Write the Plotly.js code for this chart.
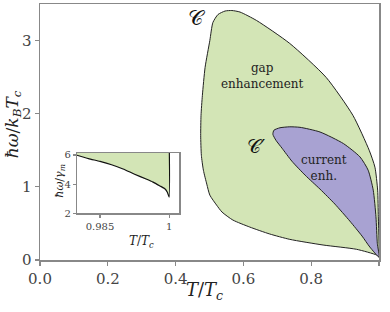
<!DOCTYPE html>
<html>
<head>
<meta charset="utf-8">
<script src="https://cdn.plot.ly/plotly-3.0.1.min.js"></script>
<style>html,body{margin:0;padding:0;background:#fff;}#chart{width:390px;height:312px;}</style>
</head>
<body>
<div id="chart"></div>
<script>
// Region C (gap enhancement) boundary
const regionC_T = [1.0, 0.993, 0.934, 0.835, 0.737, 0.678, 0.619, 0.569, 0.537, 0.521, 0.501, 0.492, 0.482, 0.476, 0.474, 0.475, 0.479, 0.487, 0.501, 0.510, 0.525, 0.546, 0.566, 0.590, 0.639, 0.737, 0.844, 0.923, 0.971, 0.988, 0.996, 0.998, 1.0, 1.0];
const regionC_W = [0.041, 0.068, 0.146, 0.205, 0.282, 0.355, 0.450, 0.546, 0.655, 0.750, 0.887, 1.037, 1.228, 1.432, 1.705, 1.978, 2.251, 2.633, 3.001, 3.247, 3.356, 3.404, 3.411, 3.390, 3.274, 2.960, 2.497, 1.978, 1.501, 1.269, 0.955, 0.591, 0.273, 0.041];
// Region C' (current enhancement) boundary
const regionCp_T = [1.0, 0.973, 0.950, 0.914, 0.870, 0.826, 0.782, 0.743, 0.714, 0.696, 0.687, 0.690, 0.708, 0.737, 0.767, 0.826, 0.895, 0.944, 0.968, 0.983, 0.991, 0.995, 1.0];
const regionCp_W = [0.041, 0.177, 0.327, 0.532, 0.764, 0.969, 1.160, 1.351, 1.528, 1.637, 1.719, 1.774, 1.808, 1.821, 1.814, 1.750, 1.592, 1.409, 1.228, 0.955, 0.591, 0.228, 0.041];
// Inset curve
const inset_T = [0.98, 0.9825, 0.985, 0.9875, 0.99, 0.9925, 0.995, 0.9965, 0.998, 0.999, 0.9996, 1.0];
const inset_W = [5.98, 5.75, 5.56, 5.33, 5.04, 4.68, 4.35, 4.14, 3.88, 3.70, 3.45, 3.12];
const insetTop = 7;

const xTicks = [0, 0.2, 0.4, 0.6, 0.8, 1.0];
const yTicks = [0, 1, 2, 3];
const insetXTicks = [0.985, 1];
const insetYTicks = [2, 4, 6];

const GREEN = '#d3e5b6', PURPLE = '#a8a2d2', SPINE = '#888888';
const FONT = 'DejaVu Serif, Liberation Serif, serif';

const traces = [
  {x: regionC_T, y: regionC_W, mode: 'lines', fill: 'toself', fillcolor: GREEN,
   line: {color: '#222', width: 1, shape: 'spline', smoothing: 0.6}, hoverinfo: 'skip'},
  {x: regionCp_T, y: regionCp_W, mode: 'lines', fill: 'toself', fillcolor: PURPLE,
   line: {color: '#222', width: 1, shape: 'spline', smoothing: 0.6}, hoverinfo: 'skip'},
  {x: inset_T.concat([1.0, 0.98]), y: inset_W.concat([insetTop, insetTop]), xaxis: 'x2', yaxis: 'y2',
   mode: 'lines', fill: 'toself', fillcolor: GREEN, line: {width: 0}, hoverinfo: 'skip'},
  {x: inset_T.concat([1.0]), y: inset_W.concat([insetTop]), xaxis: 'x2', yaxis: 'y2',
   mode: 'lines', line: {color: '#111', width: 1.2, shape: 'spline', smoothing: 0.5}, hoverinfo: 'skip'}
];

const axBase = {showgrid: false, zeroline: false, showline: true, mirror: true, linecolor: SPINE, linewidth: 1.5,
  ticks: 'outside', ticklen: 4, tickwidth: 1.2, tickcolor: SPINE};

const layout = {
  width: 390, height: 312,
  margin: {l: 40, r: 11, t: 4, b: 52},
  paper_bgcolor: '#fff', plot_bgcolor: '#fff',
  showlegend: false,
  font: {family: FONT, color: '#222'},
  xaxis: Object.assign({}, axBase, {range: [0, 1], domain: [0, 1], tickvals: xTicks, tickformat: '.1f',
    tickfont: {size: 15, color: '#444', family: FONT}}),
  yaxis: Object.assign({}, axBase, {range: [0, 3.5], domain: [0, 1], tickvals: yTicks,
    tickfont: {size: 15, color: '#444', family: FONT}}),
  xaxis2: Object.assign({}, axBase, {anchor: 'y2', range: [0.98, 1.0022], domain: [0.109, 0.411], tickvals: insetXTicks,
    linewidth: 1.2, ticklen: 3, tickfont: {size: 10, color: '#444', family: FONT}}),
  yaxis2: Object.assign({}, axBase, {anchor: 'x2', range: [2, 6.15], domain: [0.182, 0.419], tickvals: insetYTicks,
    linewidth: 1.2, ticklen: 3, tickfont: {size: 10, color: '#444', family: FONT}}),
  annotations: [
    {xref: 'paper', yref: 'paper', x: 0.484, y: -0.121, text: '<i>T</i>/<i>T</i><sub><i>c</i></sub>', showarrow: false,
     font: {size: 18, family: FONT, color: '#222'}, xanchor: 'center', yanchor: 'middle'},
    {xref: 'paper', yref: 'paper', x: -0.080, y: 0.53, text: '<i>ħω</i>/<i>k</i><sub><i>B</i></sub><i>T</i><sub><i>c</i></sub>', showarrow: false,
     textangle: -90, font: {size: 17, family: FONT, color: '#222'}, xanchor: 'center', yanchor: 'middle'},
    {xref: 'x', yref: 'y', x: 0.462, y: 3.31, text: '𝒞', showarrow: false,
     font: {size: 21, family: FONT, color: '#111'}},
    {xref: 'x', yref: 'y', x: 0.637, y: 1.555, text: '𝒞′', showarrow: false,
     font: {size: 19, family: FONT, color: '#111'}},
    {xref: 'x', yref: 'y', x: 0.655, y: 2.52, text: 'gap<br>enhancement', showarrow: false,
     font: {size: 12, family: FONT, color: '#222'}},
    {xref: 'x', yref: 'y', x: 0.838, y: 1.255, text: 'current<br>enh.', showarrow: false,
     font: {size: 12, family: FONT, color: '#222'}},
    {xref: 'paper', yref: 'paper', x: 0.257, y: 0.03, text: '<i>T</i>/<i>T</i><sub><i>c</i></sub>', showarrow: false,
     font: {size: 12, family: FONT, color: '#222'}},
    {xref: 'paper', yref: 'paper', x: 0.032, y: 0.235, text: '<i>ħω</i>/<i>γ</i><sub><i>m</i></sub>', showarrow: false,
     textangle: -90, font: {size: 11, family: FONT, color: '#222'}}
  ]
};

Plotly.newPlot('chart', traces, layout, {staticPlot: true, displayModeBar: false});
</script>
</body>
</html>
